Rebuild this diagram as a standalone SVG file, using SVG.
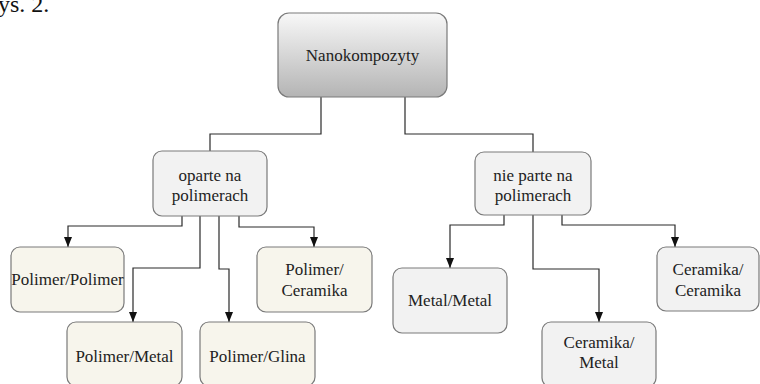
<svg xmlns="http://www.w3.org/2000/svg" width="760" height="384" viewBox="0 0 760 384">
<defs>
<linearGradient id="g" x1="0" y1="0" x2="0" y2="1">
<stop offset="0" stop-color="#f8f8f8"/>
<stop offset="1" stop-color="#b4b4b4"/>
</linearGradient>
<marker id="arr" markerUnits="userSpaceOnUse" markerWidth="10" markerHeight="8" refX="10" refY="4" orient="auto">
<path d="M0,0 L10,4 L0,8 z" fill="#111"/>
</marker>
</defs>
<style>
.box{stroke:#7a7a7a;stroke-width:1.2}
.cream{fill:#f7f5ec}
.gray{fill:#f2f2f2}
.t{font-size:17px;fill:#222;text-anchor:middle}
.c{fill:none;stroke:#2a2a2a;stroke-width:1.2}
.a{marker-end:url(#arr)}
</style>
<g font-family="'Liberation Serif', 'DejaVu Serif', serif">
<text x="-2" y="12" font-size="24" fill="#111">ys. 2.</text>
<g id="connectors">
<path class="c" d="M321,97 V134 H210 V151"/>
<path class="c" d="M405,97 V134 H533 V152"/>
<path class="c a" d="M182,216 V226 H68 V247"/>
<path class="c a" d="M200,216 V268 H133 V322"/>
<path class="c a" d="M219,216 V269 H229 V322"/>
<path class="c a" d="M239,216 V227 H314 V247"/>
<path class="c a" d="M504,215 V225 H450 V268"/>
<path class="c a" d="M533,215 V269 H599 V322"/>
<path class="c a" d="M562,215 V225 H675 V247"/>
</g>
<g id="nanokompozyty">
<rect class="box" x="278" y="13" width="169" height="84" rx="11" fill="url(#g)"/>
<text class="t" x="362.5" y="61">Nanokompozyty</text>
</g>
<g id="oparte">
<rect class="box gray" x="153" y="151" width="114" height="65" rx="9"/>
<text class="t" x="210" y="181">oparte na</text>
<text class="t" x="210" y="201">polimerach</text>
</g>
<g id="nieparte">
<rect class="box gray" x="475" y="152" width="116" height="63" rx="9"/>
<text class="t" x="533" y="181">nie parte na</text>
<text class="t" x="533" y="201">polimerach</text>
</g>
<g id="polimer-polimer">
<rect class="box cream" x="11" y="247" width="113" height="65" rx="9"/>
<text class="t" x="67.5" y="285">Polimer/Polimer</text>
</g>
<g id="polimer-metal">
<rect class="box cream" x="67" y="322" width="115" height="64" rx="9"/>
<text class="t" x="124.5" y="362">Polimer/Metal</text>
</g>
<g id="polimer-glina">
<rect class="box cream" x="200" y="322" width="115" height="64" rx="9"/>
<text class="t" x="257.5" y="362">Polimer/Glina</text>
</g>
<g id="polimer-ceramika">
<rect class="box cream" x="257" y="247" width="115" height="65" rx="9"/>
<text class="t" x="314.5" y="275">Polimer/</text>
<text class="t" x="314.5" y="296">Ceramika</text>
</g>
<g id="metal-metal">
<rect class="box gray" x="393" y="268" width="114" height="65" rx="9"/>
<text class="t" x="450" y="306">Metal/Metal</text>
</g>
<g id="ceramika-metal">
<rect class="box gray" x="542" y="322" width="114" height="65" rx="9"/>
<text class="t" x="599" y="348">Ceramika/</text>
<text class="t" x="599" y="368">Metal</text>
</g>
<g id="ceramika-ceramika">
<rect class="box gray" x="657" y="247" width="102" height="64" rx="9"/>
<text class="t" x="708" y="275">Ceramika/</text>
<text class="t" x="708" y="296">Ceramika</text>
</g>
</g>
</svg>
